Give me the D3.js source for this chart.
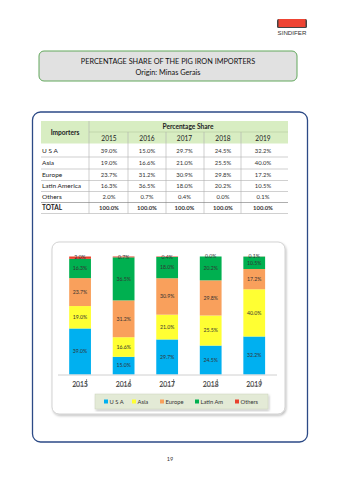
<!DOCTYPE html>
<html>
<head>
<meta charset="utf-8">
<script src="https://cdn.jsdelivr.net/npm/d3@7"></script>
<style>
  html, body { margin: 0; padding: 0; background: #fff; }
  svg { display: block; font-family: Lato, "Open Sans", sans-serif; }
</style>
</head>
<body>
<svg id="page" width="339" height="480"></svg>
<script>
// Data: percentage share of pig iron importers, origin Minas Gerais
const years = ["2015", "2016", "2017", "2018", "2019"];
const importers = ["U S A", "Asia", "Europe", "Latin America", "Others"];
const legendNames = ["U S A", "Asia", "Europe", "Latin Am", "Others"];
const usa = [39.0, 15.0, 29.7, 24.5, 32.2];
const asia = [19.0, 16.6, 21.0, 25.5, 40.0];
const europe = [23.7, 31.2, 30.9, 29.8, 17.2];
const latinAmerica = [16.3, 36.5, 18.0, 20.2, 10.5];
const others = [2.0, 0.7, 0.4, 0.0, 0.1];
const totals = [100.0, 100.0, 100.0, 100.0, 100.0];
const seriesValues = [usa, asia, europe, latinAmerica, others];
const colors = ["#00b0f0", "#ffff33", "#f9a05c", "#00b050", "#e8412c"];

const svg = d3.select("#page");
const fmt = v => v.toFixed(1) + "%";

// ---- defs: soft shadow
const defs = svg.append("defs");
const sh = defs.append("filter").attr("id", "shadow").attr("x", "-10%").attr("y", "-10%").attr("width", "120%").attr("height", "130%");
sh.append("feDropShadow").attr("dx", 1).attr("dy", 1.5).attr("stdDeviation", 1).attr("flood-color", "#000").attr("flood-opacity", 0.25);

// ---- logo
const logo = svg.append("g");
logo.append("rect").attr("x", 277).attr("y", 19).attr("width", 30).attr("height", 9).attr("rx", 1.5).attr("fill", "#444");
logo.append("rect").attr("x", 278.5).attr("y", 19).attr("width", 27).attr("height", 8).attr("fill", "#ee4433");
logo.append("text").attr("x", 292).attr("y", 34.5).attr("text-anchor", "middle")
  .attr("font-size", 6.2).attr("fill", "#333").attr("font-family", "'Liberation Sans Narrow', 'Liberation Sans', sans-serif")
  .text("SINDIFER");

// ---- title box
svg.append("rect").attr("x", 39).attr("y", 51).attr("width", 258).attr("height", 30).attr("rx", 5)
  .attr("fill", "#e1e1e1").attr("stroke", "#62a85c").attr("stroke-width", 1);
svg.append("text").attr("x", 168).attr("y", 64).attr("text-anchor", "middle").attr("font-size", 7.3).attr("fill", "#111")
  .text("PERCENTAGE SHARE OF THE PIG IRON IMPORTERS");
svg.append("text").attr("x", 168).attr("y", 74.5).attr("text-anchor", "middle").attr("font-size", 7.3).attr("fill", "#111")
  .text("Origin: Minas Gerais");

// ---- main frame
svg.append("rect").attr("x", 32.5).attr("y", 112).attr("width", 275).attr("height", 330).attr("rx", 8)
  .attr("fill", "#fff").attr("stroke", "#2c4a86").attr("stroke-width", 1.3);

// ---- table
const tbl = svg.append("g");
const colEdges = [41, 89, 128, 166, 204, 241, 288];
const rowCenters = [151, 163, 175, 186, 197, 208];
const rowLines = [157, 169, 180.5, 191.5, 202.5, 213.5];

tbl.append("rect").attr("x", 41).attr("y", 121).attr("width", 247).attr("height", 22.5).attr("fill", "#d8edc2");
// header separators
tbl.append("line").attr("x1", 89).attr("x2", 288).attr("y1", 132).attr("y2", 132).attr("stroke", "#b5c9a0").attr("stroke-width", 0.6);
// vertical lines
colEdges.slice(1, 6).forEach((x, i) => {
  tbl.append("line").attr("x1", x).attr("x2", x).attr("y1", i === 0 ? 121 : 132).attr("y2", 213.5)
    .attr("stroke", "#b0b0b0").attr("stroke-width", 0.6);
});
// horizontal row lines
rowLines.forEach((y, i) => {
  tbl.append("line").attr("x1", 41).attr("x2", 288).attr("y1", y).attr("y2", y)
    .attr("stroke", i === 4 ? "#777" : "#b0b0b0").attr("stroke-width", 0.6);
});
tbl.append("text").attr("x", 65).attr("y", 134.5).attr("text-anchor", "middle").attr("font-size", 6.6)
  .attr("font-weight", "bold").attr("fill", "#222").text("Importers");
tbl.append("text").attr("x", 188).attr("y", 128.5).attr("text-anchor", "middle").attr("font-size", 6.6)
  .attr("font-weight", "bold").attr("fill", "#222").text("Percentage Share");
const colCenters = [109, 147, 184.5, 223, 263];
years.forEach((yr, i) => {
  tbl.append("text").attr("x", colCenters[i]).attr("y", 140.5).attr("text-anchor", "middle")
    .attr("font-size", 6.6).attr("fill", "#222").text(yr);
});
const rowLabels = importers.concat(["TOTAL"]);
const rowData = seriesValues.concat([totals]);
rowLabels.forEach((lab, r) => {
  const isTotal = r === 5;
  tbl.append("text").attr("x", 42).attr("y", rowCenters[r] + 2.3).attr("font-size", 6.5)
    .attr("font-weight", isTotal ? "bold" : "normal").attr("fill", "#222").text(lab);
  rowData[r].forEach((v, c) => {
    tbl.append("text").attr("x", colCenters[c]).attr("y", rowCenters[r] + 2.2).attr("text-anchor", "middle")
      .attr("font-size", 5.9).attr("font-weight", isTotal ? "bold" : "normal").attr("fill", "#333").text(fmt(v));
  });
});

// ---- chart panel
svg.append("rect").attr("x", 52).attr("y", 242).attr("width", 233).attr("height", 172).attr("rx", 7)
  .attr("fill", "#fff").attr("stroke", "#c8c8c8").attr("stroke-width", 0.8).attr("filter", "url(#shadow)");

const x = d3.scaleBand().domain(years).range([58.3, 276]).paddingInner(0.5).paddingOuter(0.25);
const y = d3.scaleLinear().domain([0, 100]).range([374.5, 256.5]);

const table = years.map((yr, i) => {
  const row = { year: yr };
  legendNames.forEach((n, k) => { row[n] = seriesValues[k][i]; });
  return row;
});
const stack = d3.stack().keys(legendNames)(table);

const chart = svg.append("g");
stack.forEach((layer, k) => {
  chart.append("g").attr("fill", colors[k]).selectAll("rect").data(layer).join("rect")
    .attr("x", d => x(d.data.year)).attr("width", x.bandwidth())
    .attr("y", d => y(d[1])).attr("height", d => y(d[0]) - y(d[1]));
});
stack.forEach((layer, k) => {
  chart.append("g").selectAll("text").data(layer).join("text")
    .attr("x", d => x(d.data.year) + x.bandwidth() / 2)
    .attr("y", d => y((d[0] + d[1]) / 2) + 1.8)
    .attr("text-anchor", "middle").attr("font-size", 5.2).attr("fill", "#333")
    .text(d => fmt(d.data[legendNames[k]]));
});

// axis
const axis = chart.append("g").attr("transform", "translate(0,374.5)")
  .call(d3.axisBottom(x).tickSize(0).tickPadding(8));
axis.select(".domain").attr("stroke", "#d0d0d0").attr("stroke-width", 1)
  .attr("d", "M58,0.5H277");
axis.selectAll("text").attr("font-size", 6.8).attr("fill", "#222").attr("font-family", "Lato, sans-serif");
axis.selectAll(".tick").each(function () {
  const g = d3.select(this);
  g.append("path").attr("d", "M-6.5,11.5H6.5M6.5,4.5V11.5").attr("fill", "none").attr("stroke", "#666").attr("stroke-width", 0.7);
});

// legend
const leg = svg.append("g");
leg.append("rect").attr("x", 95).attr("y", 394).attr("width", 173).attr("height", 15)
  .attr("fill", "#e3ead6").attr("stroke", "#c9d2bb").attr("stroke-width", 0.5).attr("filter", "url(#shadow)");
const legX = [106, 134, 162, 197, 237];
legendNames.forEach((n, k) => {
  leg.append("rect").attr("x", legX[k] - 2).attr("y", 399.5).attr("width", 4).attr("height", 4).attr("fill", colors[k]);
  leg.append("text").attr("x", legX[k] + 3.5).attr("y", 403.5).attr("font-size", 5.8).attr("fill", "#333").text(n);
});

// page number
svg.append("text").attr("x", 170).attr("y", 461).attr("text-anchor", "middle").attr("font-size", 5.5).attr("fill", "#333").text("19");
</script>
</body>
</html>
